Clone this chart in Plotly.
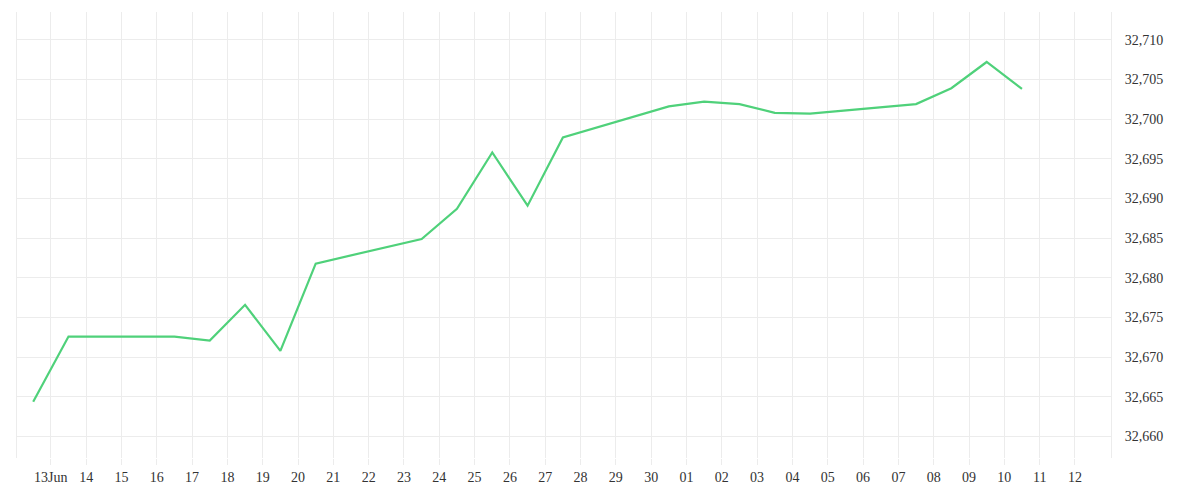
import plotly.graph_objects as go
import pandas as pd

dates = ["2023-06-12 12:00","2023-06-13 12:00","2023-06-16 12:00","2023-06-17 12:00","2023-06-18 12:00",
         "2023-06-19 12:00","2023-06-20 12:00","2023-06-23 12:00","2023-06-24 12:00","2023-06-25 12:00",
         "2023-06-26 12:00","2023-06-27 12:00","2023-06-30 12:00","2023-07-01 12:00","2023-07-02 12:00",
         "2023-07-03 12:00","2023-07-04 12:00","2023-07-07 12:00","2023-07-08 12:00","2023-07-09 12:00",
         "2023-07-10 12:00"]
values = [32664.4,32672.6,32672.6,32672.1,32676.6,32670.8,32681.8,32684.9,32688.7,32695.8,
          32689.1,32697.7,32701.6,32702.2,32701.9,32700.8,32700.7,32701.9,32703.9,32707.2,32703.8]

tick_dates = pd.date_range("2023-06-13", "2023-07-12", freq="D")
tick_text = ["13Jun"] + [d.strftime("%d") for d in tick_dates[1:]]
y_ticks = [32660,32665,32670,32675,32680,32685,32690,32695,32700,32705,32710]
y_text = [f"{v:,}" for v in y_ticks]

fig = go.Figure(go.Scatter(x=pd.to_datetime(dates), y=values, mode="lines",
                           line=dict(color="#4fd17a", width=2.2)))
fig.update_layout(
    width=1200, height=500, plot_bgcolor="white", paper_bgcolor="white",
    margin=dict(l=9, r=97, t=4, b=50), showlegend=False,
    font=dict(family="Liberation Serif", size=14, color="#333"),
)
fig.update_xaxes(range=["2023-06-12 01:00","2023-07-13 00:30"], tickvals=tick_dates, ticktext=tick_text,
                 showgrid=True, gridcolor="#ececec", zeroline=False, ticks="outside",
                 ticklen=6, tickcolor="#ececec", showline=False)
fig.update_yaxes(side="right", range=[32657.3, 32713.5], tickvals=y_ticks, ticktext=y_text,
                 showgrid=True, gridcolor="#ececec", zeroline=False, showline=True,
                 linecolor="#ececec", mirror=True, ticks="", ticklabelstandoff=10)
fig.write_html("out.html")
